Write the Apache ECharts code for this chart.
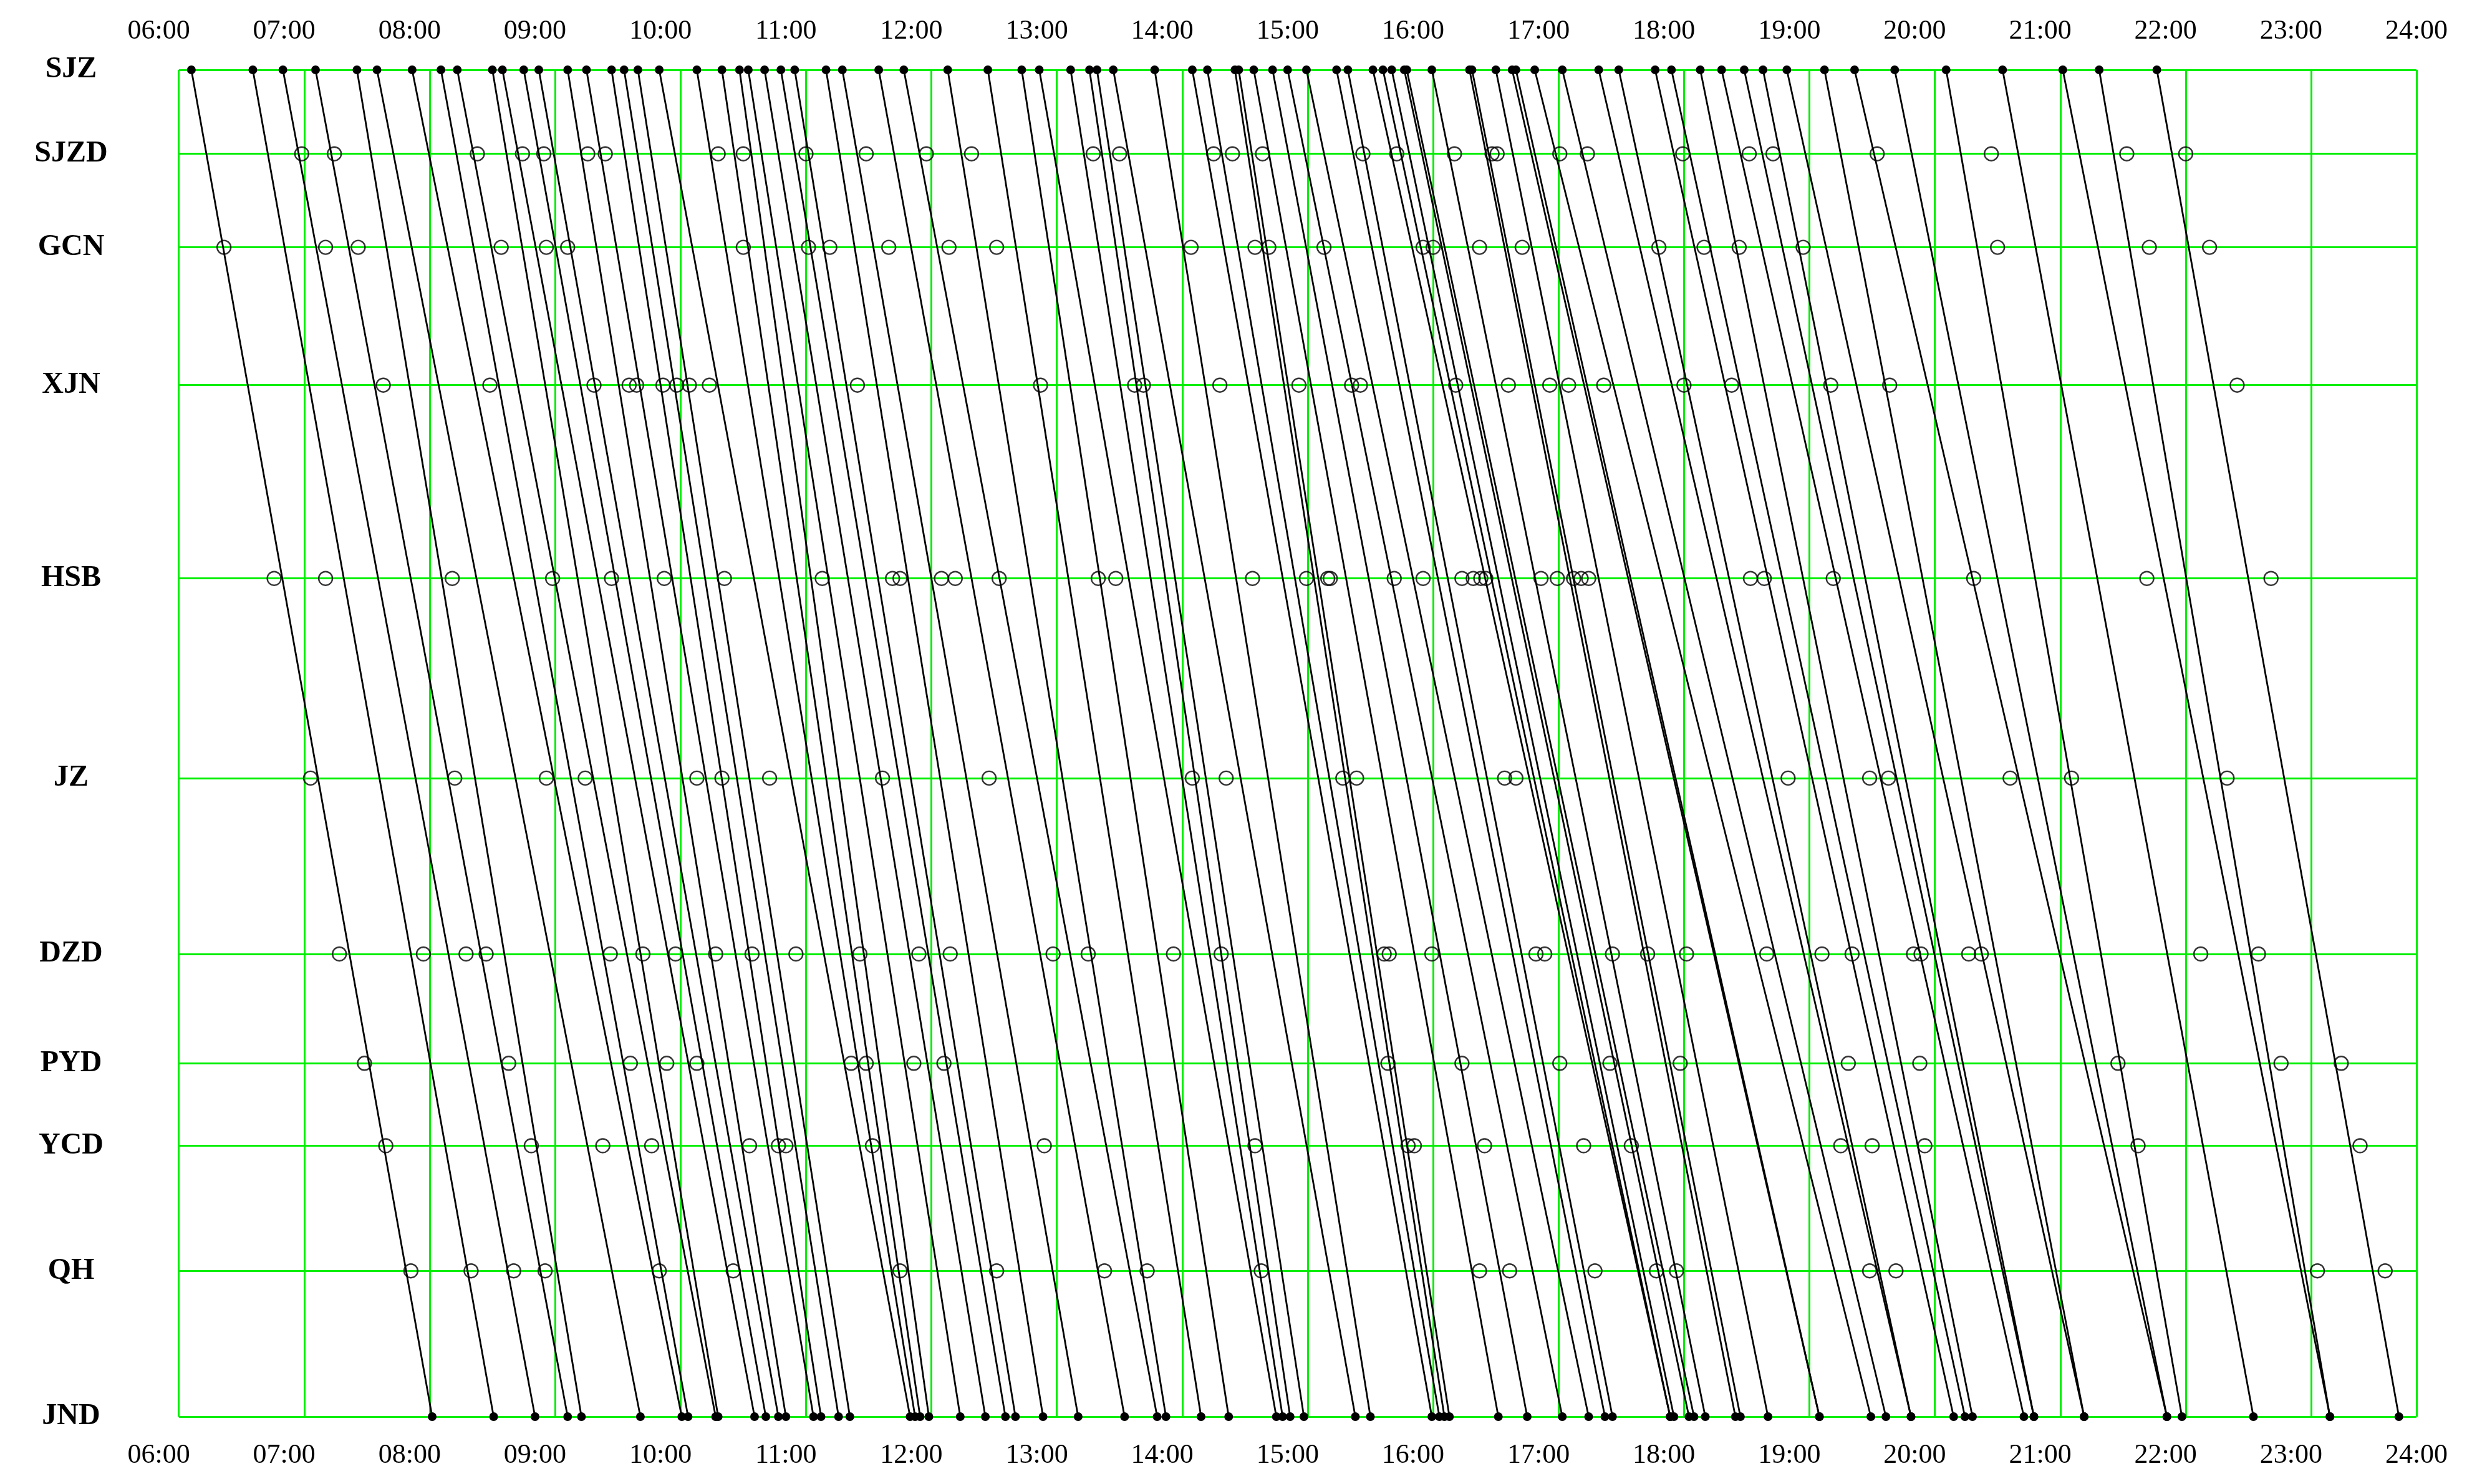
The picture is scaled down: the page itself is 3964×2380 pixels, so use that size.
<!DOCTYPE html>
<html>
<head>
<meta charset="utf-8">
<script src="https://cdn.jsdelivr.net/npm/echarts@6/dist/echarts.min.js"></script>
<style>
  html, body { margin: 0; padding: 0; background: #fff; }
  #chart { width: 3964px; height: 2380px; }
</style>
</head>
<body>
<div id="chart"></div>
<script>
// 车站及里程位置（自上而下）
const stations = ['SJZ', 'SJZD', 'GCN', 'XJN', 'HSB', 'JZ', 'DZD', 'PYD', 'YCD', 'QH', 'JND'];
const stationKm = [0, 53, 112, 199, 321, 447, 558, 627, 679, 758, 850];

// 各车次 SJZ 发车时刻与 JND 到达时刻（小时）
const departSJZ = [6.26, 6.75, 6.99, 7.25, 7.58, 7.74, 8.02, 8.25, 8.38, 8.66,
  8.74, 8.91, 9.03, 9.26, 9.41, 9.61, 9.71, 9.82, 9.99, 10.29,
  10.49, 10.63, 10.70, 10.83, 10.96, 11.07, 11.32, 11.45, 11.74, 11.94,
  12.29, 12.61, 12.88, 13.02, 13.27, 13.42, 13.48, 13.61, 13.94, 14.24,
  14.36, 14.58, 14.61, 14.73, 14.88, 15.00, 15.15, 15.39, 15.48, 15.68,
  15.76, 15.83, 15.93, 15.95, 16.15, 16.45, 16.47, 16.66, 16.79, 16.82,
  16.97, 17.19, 17.48, 17.64, 17.93, 18.06, 18.29, 18.46, 18.64, 18.79,
  18.98, 19.28, 19.52, 19.84, 20.25, 20.70, 21.18, 21.47, 21.93];
const arriveJND = [8.18, 8.67, 9.00, 9.26, 9.37, 9.84, 10.17, 10.22, 10.44, 10.46,
  10.75, 10.84, 10.94, 11.00, 11.22, 11.28, 11.42, 11.51, 11.99, 12.03,
  12.07, 12.14, 12.39, 12.59, 12.75, 12.83, 13.05, 13.33, 13.70, 13.96,
  14.03, 14.31, 14.53, 14.91, 14.96, 15.02, 15.13, 15.54, 15.66, 16.15,
  16.21, 16.25, 16.29, 16.68, 16.91, 17.19, 17.40, 17.53, 17.59, 18.05,
  18.05, 18.08, 18.20, 18.24, 18.33, 18.57, 18.61, 18.83, 19.24, 19.24,
  19.65, 19.77, 19.97, 19.97, 20.31, 20.40, 20.46, 20.87, 20.95, 20.95,
  21.35, 21.35, 22.01, 22.01, 22.13, 22.70, 23.31, 23.31, 23.86];

// 中间站停站时刻（小时）
const stopSJZD = [7.14, 7.40, 8.54, 8.90, 9.07, 9.42, 9.56, 10.46, 10.66, 11.16, 11.64, 12.12, 12.48, 13.45, 13.66, 14.41, 14.56, 14.80, 15.60, 15.87, 16.33, 16.63, 16.67, 17.17, 17.39, 18.15, 18.68, 18.87, 19.70, 20.61, 21.69, 22.16];
const stopGCN = [6.52, 7.33, 7.59, 8.73, 9.09, 9.26, 10.66, 11.18, 11.35, 11.82, 12.30, 12.68, 14.23, 14.74, 14.85, 15.29, 16.08, 16.16, 16.53, 16.87, 17.96, 18.32, 18.60, 19.11, 20.66, 21.87, 22.35];
const stopXJN = [7.79, 8.64, 9.47, 9.75, 9.81, 10.02, 10.13, 10.23, 10.39, 11.57, 13.03, 13.78, 13.85, 14.46, 15.09, 15.51, 15.58, 16.34, 16.76, 17.09, 17.24, 17.52, 18.16, 18.54, 19.33, 19.80, 22.57];
const stopHSB = [6.92, 7.33, 8.34, 9.14, 9.61, 10.03, 10.51, 11.29, 11.85, 11.91, 12.24, 12.35, 12.70, 13.49, 13.63, 14.72, 15.15, 15.32, 15.34, 15.85, 16.08, 16.39, 16.48, 16.54, 16.58, 17.02, 17.15, 17.28, 17.34, 17.40, 18.69, 18.80, 19.35, 20.47, 21.85, 22.84];
const stopJZ = [7.21, 8.36, 9.09, 9.40, 10.29, 10.49, 10.87, 11.77, 12.62, 14.24, 14.51, 15.44, 15.55, 16.73, 16.82, 18.99, 19.64, 19.79, 20.76, 21.25, 22.49];
const stopDZD = [7.44, 8.11, 8.45, 8.61, 9.60, 9.86, 10.12, 10.44, 10.73, 11.08, 11.59, 12.06, 12.31, 13.13, 13.41, 14.09, 14.47, 15.77, 15.81, 16.15, 16.98, 17.05, 17.59, 17.87, 18.18, 18.82, 19.26, 19.50, 19.99, 20.05, 20.43, 20.53, 22.28, 22.74];
const stopPYD = [7.64, 8.79, 9.76, 10.05, 10.29, 11.52, 11.64, 12.02, 12.26, 15.80, 16.39, 17.17, 17.57, 18.13, 19.47, 20.04, 21.62, 22.92, 23.40];
const stopYCD = [7.81, 8.97, 9.54, 9.93, 10.71, 10.94, 11.00, 11.69, 13.06, 14.74, 15.96, 16.01, 16.57, 17.36, 17.74, 19.41, 19.66, 20.08, 21.78, 23.55];
const stopQH = [8.01, 8.49, 8.83, 9.08, 9.99, 10.58, 11.91, 12.68, 13.54, 13.88, 14.79, 16.53, 16.77, 17.45, 17.94, 18.10, 19.64, 19.85, 23.21, 23.75];

// 网格竖线时刻
const gridTimes = [6.16, 7.16, 8.16, 9.16, 10.16, 11.16, 12.16, 13.16, 14.16, 15.16, 16.16, 17.16, 18.16, 19.16, 20.16, 21.16, 22.16, 23.16, 24];
const hourTicks = [6, 7, 8, 9, 10, 11, 12, 13, 14, 15, 16, 17, 18, 19, 20, 21, 22, 23, 24];

const stopLists = [
  ['SJZD', stopSJZD], ['GCN', stopGCN], ['XJN', stopXJN], ['HSB', stopHSB], ['JZ', stopJZ],
  ['DZD', stopDZD], ['PYD', stopPYD], ['YCD', stopYCD], ['QH', stopQH]
];

const kmOf = name => stationKm[stations.indexOf(name)];
const hourLabel = v => (v < 10 ? '0' : '') + v + ':00';
const GREEN = '#00ee00';

const gridLines = [];
gridTimes.forEach(t => gridLines.push([{ coord: [t, 0] }, { coord: [t, 850] }]));
stationKm.forEach(k => gridLines.push([{ coord: [6.16, k] }, { coord: [24, k] }]));

const series = [{
  type: 'line',
  data: [],
  silent: true,
  markLine: {
    symbol: 'none',
    silent: true,
    label: { show: false },
    lineStyle: { color: GREEN, width: 3, type: 'solid' },
    data: gridLines
  }
}];

departSJZ.forEach((d, i) => {
  series.push({
    type: 'line',
    data: [[d, 0], [arriveJND[i], 850]],
    symbol: 'circle',
    symbolSize: 14,
    lineStyle: { color: '#000', width: 2.8 },
    itemStyle: { color: '#000' },
    z: 5
  });
});

const stopData = [];
stopLists.forEach(([name, times]) => times.forEach(t => stopData.push([t, kmOf(name)])));
series.push({
  type: 'scatter',
  data: stopData,
  symbol: 'circle',
  symbolSize: 22,
  itemStyle: { color: 'rgba(255,255,255,0)', borderColor: '#000', borderWidth: 2.4 },
  z: 6
});

const timeAxis = (pos, margin) => ({
  type: 'value',
  position: pos,
  min: 5.5,
  max: 24,
  axisLine: { show: false },
  axisTick: { show: false },
  splitLine: { show: false },
  axisLabel: {
    margin: margin,
    fontFamily: 'Liberation Serif',
    fontSize: 44,
    color: '#000',
    formatter: hourLabel,
    customValues: hourTicks,
    alignMaxLabel: 'center',
    hideOverlap: false
  }
});

const chart = echarts.init(document.getElementById('chart'));
chart.setOption({
  backgroundColor: '#fff',
  animation: false,
  grid: { left: 154, right: 89, top: 112, bottom: 108, containLabel: false, outerBoundsMode: 'none' },
  xAxis: [timeAxis('top', 40), timeAxis('bottom', 40)],
  yAxis: {
    type: 'value',
    inverse: true,
    min: 0,
    max: 850,
    axisLine: { show: false },
    axisTick: { show: false },
    splitLine: { show: false },
    axisLabel: {
      customValues: stationKm,
      formatter: v => stations[stationKm.indexOf(v)],
      margin: 40,
      align: 'center',
      fontFamily: 'Liberation Serif',
      fontWeight: 'bold',
      fontSize: 48,
      color: '#000'
    }
  },
  series: series
});
</script>
</body>
</html>
